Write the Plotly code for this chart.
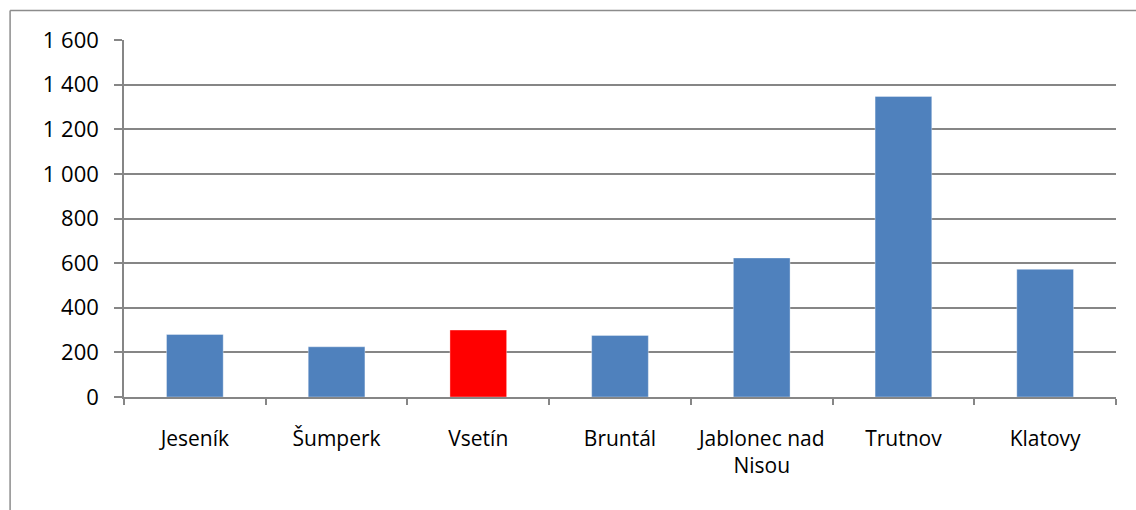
import plotly.graph_objects as go

categories = ["Jeseník", "Šumperk", "Vsetín", "Bruntál", "Jablonec nad<br>Nisou", "Trutnov", "Klatovy"]
values = [280, 225, 300, 276, 623, 1347, 572]
bar_colors = ["#4F81BD", "#4F81BD", "#FF0000", "#4F81BD", "#4F81BD", "#4F81BD", "#4F81BD"]
y_tick_vals = [0, 200, 400, 600, 800, 1000, 1200, 1400, 1600]
y_tick_text = ["0", "200", "400", "600", "800", "1 000", "1 200", "1 400", "1 600"]

W, H = 1136, 510
L, R, T, B = 123.5, 19.7, 40, 113.3
pw = W - L - R
ph = H - T - B

fig = go.Figure(go.Bar(
    x=categories, y=values,
    marker=dict(color=bar_colors, line=dict(color="rgba(255,255,255,0.35)", width=1)),
    width=0.4,
))

axis_col = "#868686"
fig.update_layout(
    width=W, height=H,
    margin=dict(l=L, r=R, t=T, b=B, pad=0),
    paper_bgcolor="white", plot_bgcolor="white",
    font=dict(family="Open Sans, sans-serif", size=21, color="black"),
    showlegend=False,
    xaxis=dict(
        type="category",
        showline=True, linecolor=axis_col, linewidth=1.5,
        ticks="outside", tickson="boundaries", ticklen=6, tickcolor=axis_col, tickwidth=1.5,
        showgrid=False, zeroline=False,
        tickfont=dict(size=21),
        tickangle=0, automargin=False,
        ticklabelstandoff=22,
    ),
    yaxis=dict(
        range=[0, 1600],
        tickvals=y_tick_vals, ticktext=y_tick_text,
        showline=True, linecolor=axis_col, linewidth=1.5,
        ticks="outside", ticklen=8, tickcolor=axis_col, tickwidth=1.5,
        showgrid=True, gridcolor=axis_col, gridwidth=1.5,
        zeroline=False, automargin=False,
        tickfont=dict(size=22),
        ticklabelstandoff=11,
    ),
)

# outer chart frame (top and left edges visible in the reference)
x_left = (9.5 - L) / pw
y_top = (H - B - 10.5) / ph
fig.add_shape(type="line", xref="paper", yref="paper",
              x0=x_left, x1=1.5, y0=y_top, y1=y_top,
              line=dict(color="#8c8c8c", width=1.5))
fig.add_shape(type="line", xref="paper", yref="paper",
              x0=x_left, x1=x_left, y0=y_top, y1=-1.0,
              line=dict(color="#8c8c8c", width=1.5))

fig.write_html("out.html", config={"displayModeBar": False},
               post_script="document.body.style.margin='0';document.body.style.overflow='hidden';")
